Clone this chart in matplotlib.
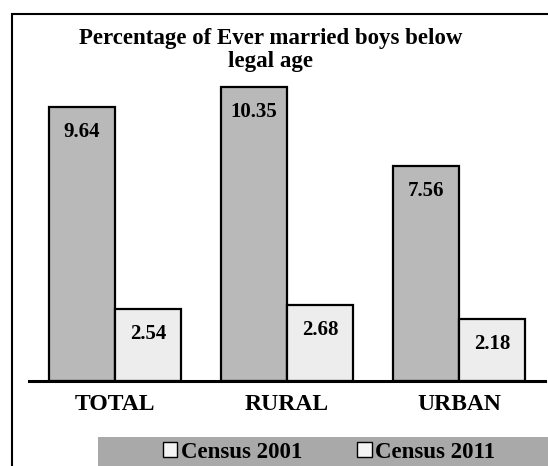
import matplotlib
matplotlib.use("Agg")
import matplotlib.pyplot as plt
import numpy as np
from matplotlib.patches import Rectangle, Patch

categories = ["TOTAL", "RURAL", "URBAN"]
census_2001 = [9.64, 10.35, 7.56]
census_2011 = [2.54, 2.68, 2.18]
series_names = ["Census 2001", "Census 2011"]

plt.rcParams['font.family'] = ['Liberation Serif', 'DejaVu Serif']
plt.rcParams['font.weight'] = 'bold'

fig = plt.figure(figsize=(5.48, 4.66), dpi=100)
fig.patch.set_facecolor('white')
ax = fig.add_axes([29/548, 85/466, 516/548, 341/466])

x = np.arange(len(categories))
w = 0.385
b1 = ax.bar(x - w/2, census_2001, w, color='#b9b9b9', edgecolor='black', linewidth=1.6)
b2 = ax.bar(x + w/2, census_2011, w, color='#ededed', edgecolor='black', linewidth=1.6)

for bars in (b1, b2):
    for rect in bars:
        h = rect.get_height()
        ax.annotate(f"{h:.2f}", (rect.get_x() + rect.get_width()/2, h),
                    xytext=(0, -18), textcoords='offset points',
                    ha='center', va='center', fontsize=15, fontweight='bold')

ax.set_xlim(-0.5, 2.5)
ax.set_ylim(0, 12)
ax.set_xticks(x)
ax.set_xticklabels(categories, fontsize=17, fontweight='bold')
ax.tick_params(axis='x', length=0, pad=9)
ax.set_yticks([])
for s in ['top', 'left', 'right']:
    ax.spines[s].set_visible(False)
ax.spines['bottom'].set_linewidth(2.2)
ax.patch.set_alpha(0)

fig.text(271/548, 1 - 50/466, "Percentage of Ever married boys below\nlegal age",
         ha='center', va='center', fontsize=16.5, fontweight='bold', linespacing=1.15)

# outer frame and legend band
fig.patches.append(Rectangle((12/548, -0.1), 2, (466-14)/466 + 0.1,
                             transform=fig.transFigure, fill=False,
                             edgecolor='black', linewidth=1.5))
fig.patches.append(Rectangle((98/548, -0.1), 2, 29/466 + 0.1,
                             transform=fig.transFigure, facecolor='#a9a9a9',
                             edgecolor='none'))

handles = [Patch(facecolor='#f4f4f4', edgecolor='black', linewidth=1.0) for _ in series_names]
fig.legend(handles, series_names, loc='center', bbox_to_anchor=(329/548, 14/466),
           ncol=2, frameon=False, handlelength=0.65, handleheight=0.65,
           handletextpad=0.15, columnspacing=2.4, borderpad=0.0,
           prop={'weight': 'bold', 'size': 16.5})

fig.savefig("out.png", dpi=100)
